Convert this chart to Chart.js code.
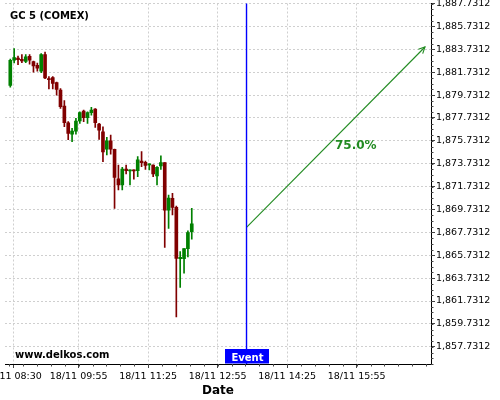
<!DOCTYPE html>
<html><head><meta charset="utf-8">
<script src="https://cdn.jsdelivr.net/npm/chart.js@4/dist/chart.umd.min.js"></script>
<style>html,body{margin:0;padding:0;background:#fff}canvas{display:block}</style>
</head><body>
<canvas id="c" width="500" height="400"></canvas>
<script>
const chartTitle = 'GC 5 (COMEX)';
const watermark = 'www.delkos.com';
const xAxisTitle = 'Date';
const eventLabel = 'Event';
const forecastLabel = '75.0%';

// candle times, minutes after 18/11 08:30
const candleTimes = [-3.5, 1.5, 6.5, 11.5, 16.5, 21.5, 26.5, 31.5, 36.5, 41.5, 46.5, 51.5, 56.5, 61.5, 66.5, 71.5,
  76.5, 81.5, 86.5, 91.5, 96.5, 101.5, 106.5, 111.5, 116.5, 121.5, 126.5, 131.5, 136.5, 141.5, 146.5, 151.5,
  156.5, 161.5, 166.5, 171.5, 176.5, 181.5, 186.5, 191.5, 196.5, 201.5, 206.5, 211.5, 216.5, 221.5, 226.5, 231.5];
const opens = [1880.58, 1882.77, 1882.97, 1882.86, 1882.68, 1883.12, 1882.65, 1882.33, 1881.81, 1883.26, 1881.18, 1881.25, 1880.81,
  1880.17, 1878.77, 1877.31, 1876.32, 1876.58, 1877.46, 1878.33, 1877.75, 1878.19, 1878.51, 1877.20, 1876.52, 1875.01, 1875.74,
  1874.99, 1872.40, 1871.87, 1873.27, 1873.10, 1873.18, 1873.12, 1873.97, 1873.86, 1873.62, 1873.62, 1872.66, 1873.53,
  1873.82, 1869.68, 1870.71, 1869.92, 1865.44, 1865.44, 1866.31, 1867.80];
const highs = [1882.88, 1883.80, 1883.14, 1883.26, 1883.26, 1883.26, 1882.71, 1882.53, 1883.35, 1883.49, 1881.35, 1881.35, 1880.87,
  1880.30, 1879.25, 1877.42, 1876.82, 1877.70, 1878.27, 1878.42, 1878.27, 1878.66, 1878.55, 1877.26, 1876.96, 1876.03, 1876.23,
  1875.01, 1873.62, 1873.42, 1873.62, 1873.19, 1873.20, 1874.35, 1874.78, 1873.97, 1873.71, 1873.63, 1873.47, 1874.41,
  1873.83, 1871.00, 1871.15, 1870.03, 1866.06, 1866.31, 1867.86, 1869.84];
const lows = [1880.43, 1882.53, 1882.38, 1882.56, 1882.56, 1882.42, 1881.74, 1881.81, 1881.68, 1881.16, 1880.26, 1880.26, 1879.73,
  1878.57, 1876.96, 1875.84, 1875.65, 1876.32, 1877.26, 1877.40, 1877.26, 1877.98, 1876.91, 1875.86, 1873.90, 1874.49, 1874.57,
  1869.83, 1871.43, 1871.43, 1872.83, 1871.87, 1872.37, 1872.60, 1873.47, 1873.24, 1873.18, 1872.60, 1871.87, 1873.24,
  1866.42, 1868.08, 1869.25, 1860.34, 1862.93, 1864.16, 1865.58, 1867.13];
const closes = [1882.77, 1883.00, 1882.82, 1882.71, 1883.08, 1882.77, 1882.27, 1882.09, 1883.26, 1881.22, 1881.07, 1880.74, 1880.23,
  1878.71, 1877.31, 1876.37, 1876.58, 1877.46, 1878.19, 1877.75, 1878.19, 1878.42, 1877.31, 1876.67, 1874.77, 1875.74, 1875.01,
  1872.54, 1871.87, 1873.27, 1873.12, 1873.18, 1873.10, 1874.06, 1873.82, 1873.59, 1873.71, 1872.83, 1873.42, 1873.82,
  1869.68, 1870.73, 1869.92, 1865.45, 1865.54, 1866.31, 1867.71, 1868.47];

const xTickValues = [0, 85, 175, 265, 355, 445];
const xTickLabels = ['18/11 08:30', '18/11 09:55', '18/11 11:25', '18/11 12:55', '18/11 14:25', '18/11 15:55'];
const yTickLabels = ['1,857.7312', '1,859.7312', '1,861.7312', '1,863.7312', '1,865.7312', '1,867.7312', '1,869.7312', '1,871.7312',
  '1,873.7312', '1,875.7312', '1,877.7312', '1,879.7312', '1,881.7312', '1,883.7312', '1,885.7312', '1,887.7312'];
const yTickValues = yTickLabels.map(s => parseFloat(s.replace(/,/g, '')));

const eventTime = 302.4;
const forecastStartValue = 1868.17;
const forecastEndTime = 533.5;
const forecastEndValue = 1883.93;
const forecastLabelTime = 417;
const forecastLabelValue = 1875.28;

const X_MIN = -10.36, X_MAX = 541.3, Y_MIN = 1856.228, Y_MAX = 1887.7312;
const UP = '#008000', DOWN = '#800000', ARROW = 'rgb(34,139,34)', BLUE = '#0000ff', GRID = '#cfcfcf';
const FONT = 'DejaVu Sans';

Chart.defaults.font.family = FONT;
const colors = opens.map((o, i) => closes[i] >= o ? UP : DOWN);

const overlay = {
  id: 'overlay',
  afterDatasetsDraw(chart) {
    const {ctx, chartArea: ca, scales: {x, y}} = chart;
    ctx.save();
    const ex = x.getPixelForValue(eventTime);
    ctx.strokeStyle = BLUE; ctx.lineWidth = 1.4;
    ctx.beginPath(); ctx.moveTo(ex, ca.top); ctx.lineTo(ex, ca.bottom); ctx.stroke();
    const x1 = x.getPixelForValue(eventTime), y1 = y.getPixelForValue(forecastStartValue);
    const x2 = x.getPixelForValue(forecastEndTime), y2 = y.getPixelForValue(forecastEndValue);
    const a = Math.atan2(y2 - y1, x2 - x1), L = 7, w = 0.45;
    ctx.strokeStyle = ARROW; ctx.lineWidth = 1.1;
    ctx.beginPath();
    ctx.moveTo(x2 - L * Math.cos(a - w), y2 - L * Math.sin(a - w));
    ctx.lineTo(x2, y2);
    ctx.lineTo(x2 - L * Math.cos(a + w), y2 - L * Math.sin(a + w));
    ctx.stroke();
    ctx.fillStyle = ARROW; ctx.font = 'bold 12px ' + FONT;
    ctx.textAlign = 'left'; ctx.textBaseline = 'middle';
    ctx.fillText(forecastLabel, x.getPixelForValue(forecastLabelTime), y.getPixelForValue(forecastLabelValue));
    ctx.restore();
  },
  afterDraw(chart) {
    const {ctx, chartArea: ca, scales: {x, y}} = chart;
    ctx.save();
    ctx.strokeStyle = '#444'; ctx.lineWidth = 1;
    ctx.beginPath();
    for (let v = yTickValues[0] - 3 * 0.5; v <= Y_MAX + 1e-6; v += 0.5) {
      if (v < Y_MIN) continue;
      const py = Math.round(y.getPixelForValue(v)) + 0.5;
      ctx.moveTo(ca.right, py); ctx.lineTo(ca.right + 2.5, py);
    }
    for (let t = 265 - 18 * 20; t <= X_MAX; t += 18) {
      if (t < X_MIN) continue;
      const px = Math.round(x.getPixelForValue(t)) + 0.5;
      ctx.moveTo(px, ca.bottom); ctx.lineTo(px, ca.bottom + 2.5);
    }
    ctx.stroke();
    // event box
    const ex = x.getPixelForValue(eventTime);
    ctx.fillStyle = BLUE;
    ctx.fillRect(Math.round(ex) - 22, ca.bottom - 15, 44, 14.5);
    ctx.fillStyle = '#fff'; ctx.font = 'bold 10px ' + FONT;
    ctx.textAlign = 'center'; ctx.textBaseline = 'alphabetic';
    ctx.fillText(eventLabel, Math.round(ex) + 0.5, ca.bottom - 3.5);
    ctx.fillStyle = '#000'; ctx.textAlign = 'left';
    ctx.fillText(chartTitle, 10, 19);
    ctx.fillText(watermark, 15, 358);
    ctx.font = 'bold 12px ' + FONT; ctx.textAlign = 'center';
    ctx.fillText(xAxisTitle, (ca.left + ca.right) / 2, 394);
    ctx.restore();
  }
};

new Chart(document.getElementById('c'), {
  type: 'bar',
  data: {
    datasets: [
      { type: 'bar', data: candleTimes.map((t, i) => ({x: t, y: [lows[i], highs[i]]})),
        backgroundColor: colors, barThickness: 1, grouped: false, borderWidth: 0, order: 3 },
      { type: 'bar', data: candleTimes.map((t, i) => ({x: t, y: [opens[i], closes[i]]})),
        backgroundColor: colors, barThickness: 3, minBarLength: 1, grouped: false, borderWidth: 0, order: 2 },
      { type: 'line', data: [{x: eventTime, y: forecastStartValue}, {x: forecastEndTime, y: forecastEndValue}],
        borderColor: ARROW, borderWidth: 1.1, pointRadius: 0, fill: false, order: 1 }
    ]
  },
  options: {
    responsive: false, animation: false, devicePixelRatio: 1, events: [],
    layout: {padding: {left: 5, top: 3.5, right: 0, bottom: 0}},
    plugins: {legend: {display: false}, tooltip: {enabled: false}, title: {display: false}},
    scales: {
      x: {
        type: 'linear', min: X_MIN, max: X_MAX, offset: false, bounds: 'data',
        grid: {color: GRID, tickColor: '#444', tickLength: 4, offset: false, lineWidth: 1},
        border: {display: true, color: '#000', width: 1, dash: [2, 2]},
        ticks: {autoSkip: false, maxRotation: 0, minRotation: 0, padding: 3, color: '#000',
          font: {size: 9.5, family: FONT}, callback: (v, i) => xTickLabels[i]},
        afterBuildTicks: s => { s.ticks = xTickValues.map(v => ({value: v})); },
        afterFit: s => { s.height = 36; s.paddingLeft = 0; s.paddingRight = 0; }
      },
      y: {
        type: 'linear', position: 'right', min: Y_MIN, max: Y_MAX, bounds: 'data', beginAtZero: false,
        grid: {color: GRID, tickColor: '#444', tickLength: 4, lineWidth: 1},
        border: {display: true, color: '#000', width: 1, dash: [2, 2]},
        ticks: {autoSkip: false, padding: 1, color: '#000', font: {size: 9.5, family: FONT},
          callback: (v, i) => yTickLabels[i]},
        afterBuildTicks: s => { s.ticks = yTickValues.map(v => ({value: v})); },
        afterFit: s => { s.width = 69; s.paddingTop = 0; s.paddingBottom = 0; }
      }
    }
  },
  plugins: [overlay]
});
</script>
</body></html>
